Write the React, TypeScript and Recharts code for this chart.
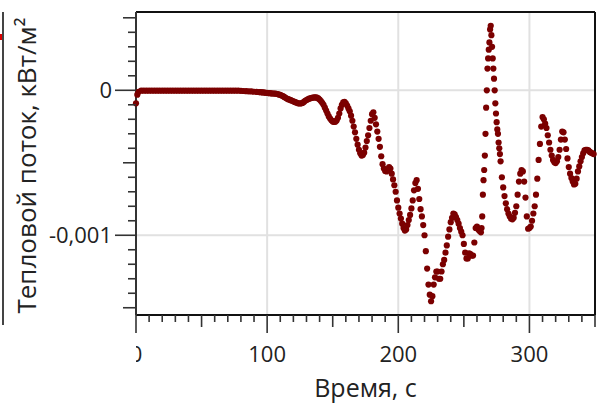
import { ScatterChart, Scatter, XAxis, YAxis, ReferenceLine } from "recharts";

// time, s  /  heat flux in units of 10^-3 kW/m2
const flatTimes = [
  0, 1, 2, 4, 6, 8, 10, 12, 14, 16, 18, 20, 22, 24, 26, 28, 30, 32, 34, 36,
  38, 40, 42, 44, 46, 48, 50, 52, 54, 56, 58, 60, 62, 64, 66, 68, 70, 72, 74, 76,
  78, 80, 82, 84, 86, 88, 90, 92, 94,
];
const flatFlux = [
  -0.09, -0.03, -0.01, -0.003, -0.003, -0.003, -0.003, -0.003, -0.003, -0.003,
  -0.003, -0.003, -0.003, -0.003, -0.003, -0.003, -0.003, -0.003, -0.003, -0.003,
  -0.003, -0.003, -0.003, -0.003, -0.003, -0.003, -0.003, -0.003, -0.003, -0.003,
  -0.003, -0.003, -0.003, -0.003, -0.003, -0.003, -0.003, -0.003, -0.003, -0.003,
  -0.003, -0.004, -0.005, -0.006, -0.007, -0.008, -0.01, -0.011, -0.012,
];

const dropTimes = [
  95, 96, 97, 98, 99, 100, 101, 102, 103, 104,
  105, 106, 107, 108, 109, 110, 111, 112, 113, 114,
  115, 116, 117, 118, 119, 120, 121, 122, 123, 124,
  125, 126, 127, 128, 129, 130, 131, 132, 133, 134,
  135, 136, 137, 138, 139, 140, 141, 142, 143, 144,
  145, 146, 147, 148, 149, 150, 151, 152, 153, 154,
  155, 156, 157, 158, 159, 160, 161, 162, 163, 164,
  165, 166, 167, 168, 169, 170, 171, 172, 173, 174,
  175, 176, 177, 178, 179, 180, 181, 182, 183, 184,
  185, 186, 187, 188, 189, 190, 191, 192, 193, 194,
  195, 196, 197, 198, 199, 200, 201, 202, 203, 204,
  205, 206, 207, 208, 209, 210, 211, 212, 213, 214,
  215, 216, 217, 218, 219, 220, 221, 222, 223, 224,
  225, 226, 227, 228, 229, 230, 231, 232, 233, 234,
  235, 236, 237, 238, 239, 240, 241, 242, 243, 244,
  245, 246, 247, 248, 249, 250, 251, 252, 253, 254,
  255, 256, 257, 258, 259, 260, 261, 262, 263,
];
const dropFlux = [
  -0.013, -0.014, -0.015, -0.016, -0.017, -0.018, -0.019, -0.02, -0.021, -0.022,
  -0.022, -0.023, -0.024, -0.026, -0.029, -0.032, -0.036, -0.04, -0.046, -0.052,
  -0.057, -0.061, -0.065, -0.068, -0.072, -0.076, -0.08, -0.084, -0.088, -0.09,
  -0.091, -0.09, -0.087, -0.08, -0.073, -0.067, -0.062, -0.058, -0.055, -0.052,
  -0.05, -0.049, -0.049, -0.051, -0.056, -0.064, -0.074, -0.086, -0.1, -0.12,
  -0.14, -0.16, -0.18, -0.195, -0.207, -0.215, -0.218, -0.217, -0.208, -0.19,
  -0.16, -0.125, -0.1, -0.084, -0.08, -0.09, -0.105, -0.125, -0.145, -0.175,
  -0.21, -0.25, -0.29, -0.335, -0.375, -0.41, -0.435, -0.45, -0.447, -0.43,
  -0.395, -0.35, -0.31, -0.26, -0.21, -0.165, -0.152, -0.19, -0.235, -0.285,
  -0.335, -0.39, -0.455, -0.51, -0.54, -0.556, -0.56, -0.545, -0.53, -0.54,
  -0.575, -0.615, -0.655, -0.7, -0.76, -0.81, -0.85, -0.885, -0.92, -0.95,
  -0.968, -0.96, -0.93, -0.895, -0.86, -0.815, -0.76, -0.69, -0.64, -0.62,
  -0.68, -0.75, -0.82, -0.87, -0.93, -1.0, -1.11, -1.23, -1.34, -1.41,
  -1.455, -1.42, -1.34, -1.29, -1.25, -1.25, -1.3, -1.3, -1.25, -1.2,
  -1.17, -1.12, -1.07, -1.01, -0.96, -0.91, -0.88, -0.85, -0.855, -0.875,
  -0.895, -0.92, -0.95, -0.975, -1.0, -1.06, -1.12, -1.16, -1.16, -1.125,
  -1.13, -1.14, -1.14, -1.05, -0.95, -0.94, -0.96, -0.97, -0.98,
];

const spikeTimes = [
  263.5, 264, 264.5, 265, 265.5, 266, 266.5, 267, 267.5, 268,
  268.5, 269, 269.5, 270, 270.5, 271, 271.5, 272, 272.5, 273,
  273.5, 274, 274.5, 275, 275.5, 276, 276.5, 277, 277.5, 278,
];
const spikeFlux = [
  -0.95, -0.87, -0.72, -0.62, -0.55, -0.45, -0.3, -0.12, 0.0, 0.15,
  0.22, 0.28, 0.33, 0.42, 0.445, 0.38, 0.3, 0.22, 0.15, 0.08,
  0.0, -0.09, -0.16, -0.22, -0.27, -0.3, -0.36, -0.4, -0.44, -0.49,
];

const tailTimes = [
  279, 280, 281, 282, 283, 284, 285, 286, 287, 288,
  289, 290, 291, 292, 293, 294, 295, 296, 297, 298,
  299, 300, 301, 302, 303, 304, 305, 306, 307, 308,
  309, 310, 311, 312, 313, 314, 315, 316, 317, 318,
  319, 320, 321, 322, 323, 324, 325, 326, 327, 328,
  329, 330, 331, 332, 333, 334, 335, 336, 337, 338,
  339, 340, 341, 342, 343, 344, 345, 346, 347, 348,
  349,
];
const tailFlux = [
  -0.6, -0.67, -0.73, -0.78, -0.82, -0.85, -0.87, -0.885, -0.89, -0.88,
  -0.845, -0.8, -0.72, -0.63, -0.575, -0.55, -0.56, -0.63, -0.74, -0.87,
  -0.955, -0.95, -0.94, -0.9, -0.85, -0.8, -0.72, -0.61, -0.48, -0.37,
  -0.25, -0.185, -0.2, -0.23, -0.26, -0.31, -0.36, -0.41, -0.45, -0.48,
  -0.497, -0.502, -0.49, -0.46, -0.41, -0.34, -0.285, -0.29, -0.34, -0.405,
  -0.47, -0.53, -0.575, -0.605, -0.63, -0.65, -0.645, -0.61, -0.56, -0.525,
  -0.49, -0.46, -0.435, -0.415, -0.41, -0.41, -0.415, -0.425, -0.43, -0.435,
  -0.44,
];

const xTicks = [
  0, 10, 20, 30, 40, 50, 60, 70, 80, 90, 100, 110, 120, 130, 140, 150, 160, 170,
  180, 190, 200, 210, 220, 230, 240, 250, 260, 270, 280, 290, 300, 310, 320, 330,
  340, 350,
];
const yTicks = [
  0.0005, 0.0004, 0.0003, 0.0002, 0.0001, 0, -0.0001, -0.0002, -0.0003, -0.0004,
  -0.0005, -0.0006, -0.0007, -0.0008, -0.0009, -0.001, -0.0011, -0.0012, -0.0013,
  -0.0014, -0.0015,
];
const gridX = [100, 200, 300];
const gridY = [0, -0.001];

const X_MAX = 350;
const Y_MIN = -0.00155;
const Y_MAX = 0.00054;

const FONT = "'Open Sans', sans-serif";
const DOT = "#7B0000";

function toPoints(times: number[], flux: number[]) {
  return times.map((t, i) => ({ t, q: flux[i] / 1000 }));
}

const points = [
  ...toPoints(flatTimes, flatFlux),
  ...toPoints(dropTimes, dropFlux),
  ...toPoints(spikeTimes, spikeFlux),
  ...toPoints(tailTimes, tailFlux),
];

function XTick(props: any) {
  const { x, y, payload } = props;
  const v = payload.value;
  const len = v % 100 === 0 ? 18 : v % 50 === 0 ? 12 : 7;
  const showLabel = v % 100 === 0;
  return (
    <g>
      <line x1={x} y1={y} x2={x} y2={y + len} stroke="#333" strokeWidth={1.6} />
      {showLabel && v === 0 && (
        <>
          <defs>
            <clipPath id="zero-clip">
              <rect x={x} y={y + 20} width={20} height={40} />
            </clipPath>
          </defs>
          <text x={x} y={y + 47} textAnchor="middle" fontSize={22} fontFamily={FONT} fill="#222" clipPath="url(#zero-clip)">
            0
          </text>
        </>
      )}
      {showLabel && v !== 0 && (
        <text x={x} y={y + 47} textAnchor="middle" fontSize={22} fontFamily={FONT} fill="#222">
          {v}
        </text>
      )}
    </g>
  );
}

function YTick(props: any) {
  const { x, y, payload } = props;
  const v = payload.value;
  const k = Math.round(v * 10000);
  const major = k === 0 || k === -10;
  const len = major ? 21 : k % 5 === 0 ? 13 : 8;
  const label = k === 0 ? "0" : k === -10 ? "-0,001" : "";
  return (
    <g>
      <line x1={x - len} y1={y} x2={x} y2={y} stroke="#333" strokeWidth={1.6} />
      {label && (
        <text x={x - 24} y={y + 8} textAnchor="end" fontSize={22} fontFamily={FONT} fill="#222">
          {label}
        </text>
      )}
    </g>
  );
}

function YLabel(props: any) {
  const vb = props.viewBox || {};
  const cx = 36;
  const cy = (vb.y || 12) + (vb.height || 303) / 2 + 2;
  return (
    <text
      x={cx}
      y={cy}
      transform={`rotate(-90, ${cx}, ${cy})`}
      textAnchor="middle"
      fontSize={26}
      fontFamily={FONT}
      fill="#222"
    >
      Тепловой поток, кВт/м²
    </text>
  );
}

function XLabel(props: any) {
  const vb = props.viewBox || {};
  const cx = (vb.x || 136) + (vb.width || 459) / 2;
  return (
    <text x={cx} y={397} textAnchor="middle" fontSize={25} fontFamily={FONT} fill="#222">
      Время, с
    </text>
  );
}

function Dot(props: any) {
  return <circle cx={props.cx} cy={props.cy} r={3.1} fill={DOT} />;
}

export default function App() {
  return (
    <div style={{ position: "absolute", left: 0, top: 0, width: 605, height: 410, background: "#fff" }}>
      {/* edge of the neighbouring chart, cut off by the screenshot */}
      <div style={{ position: "absolute", left: 2, top: 12, width: 2, height: 313, background: "#444" }} />
      <div style={{ position: "absolute", left: 0, top: 34, width: 2, height: 6, background: "#d00" }} />
      <ScatterChart width={605} height={410} margin={{ top: 12, right: 10, bottom: 0, left: 0 }}>
        {gridX.map((v) => (
          <ReferenceLine key={"gx" + v} x={v} stroke="#e1e1e1" strokeWidth={2} zIndex={-50} />
        ))}
        {gridY.map((v) => (
          <ReferenceLine key={"gy" + v} y={v} stroke="#e1e1e1" strokeWidth={2} zIndex={-50} />
        ))}
        <XAxis
          type="number"
          dataKey="t"
          domain={[0, X_MAX]}
          ticks={xTicks}
          interval={0}
          height={95}
          tickLine={false}
          tickSize={0}
          tickMargin={0}
          axisLine={{ stroke: "#111", strokeWidth: 2 }}
          tick={<XTick />}
          label={<XLabel />}
        />
        <YAxis
          type="number"
          dataKey="q"
          domain={[Y_MIN, Y_MAX]}
          ticks={yTicks}
          interval={0}
          width={136}
          tickLine={false}
          tickSize={0}
          tickMargin={0}
          axisLine={{ stroke: "#333", strokeWidth: 2 }}
          tick={<YTick />}
          label={<YLabel />}
        />
        <Scatter data={points} fill={DOT} shape={<Dot />} isAnimationActive={false} />
        <ReferenceLine y={Y_MAX} stroke="#111" strokeWidth={2} />
        <ReferenceLine x={X_MAX} stroke="#111" strokeWidth={2} />
      </ScatterChart>
    </div>
  );
}
